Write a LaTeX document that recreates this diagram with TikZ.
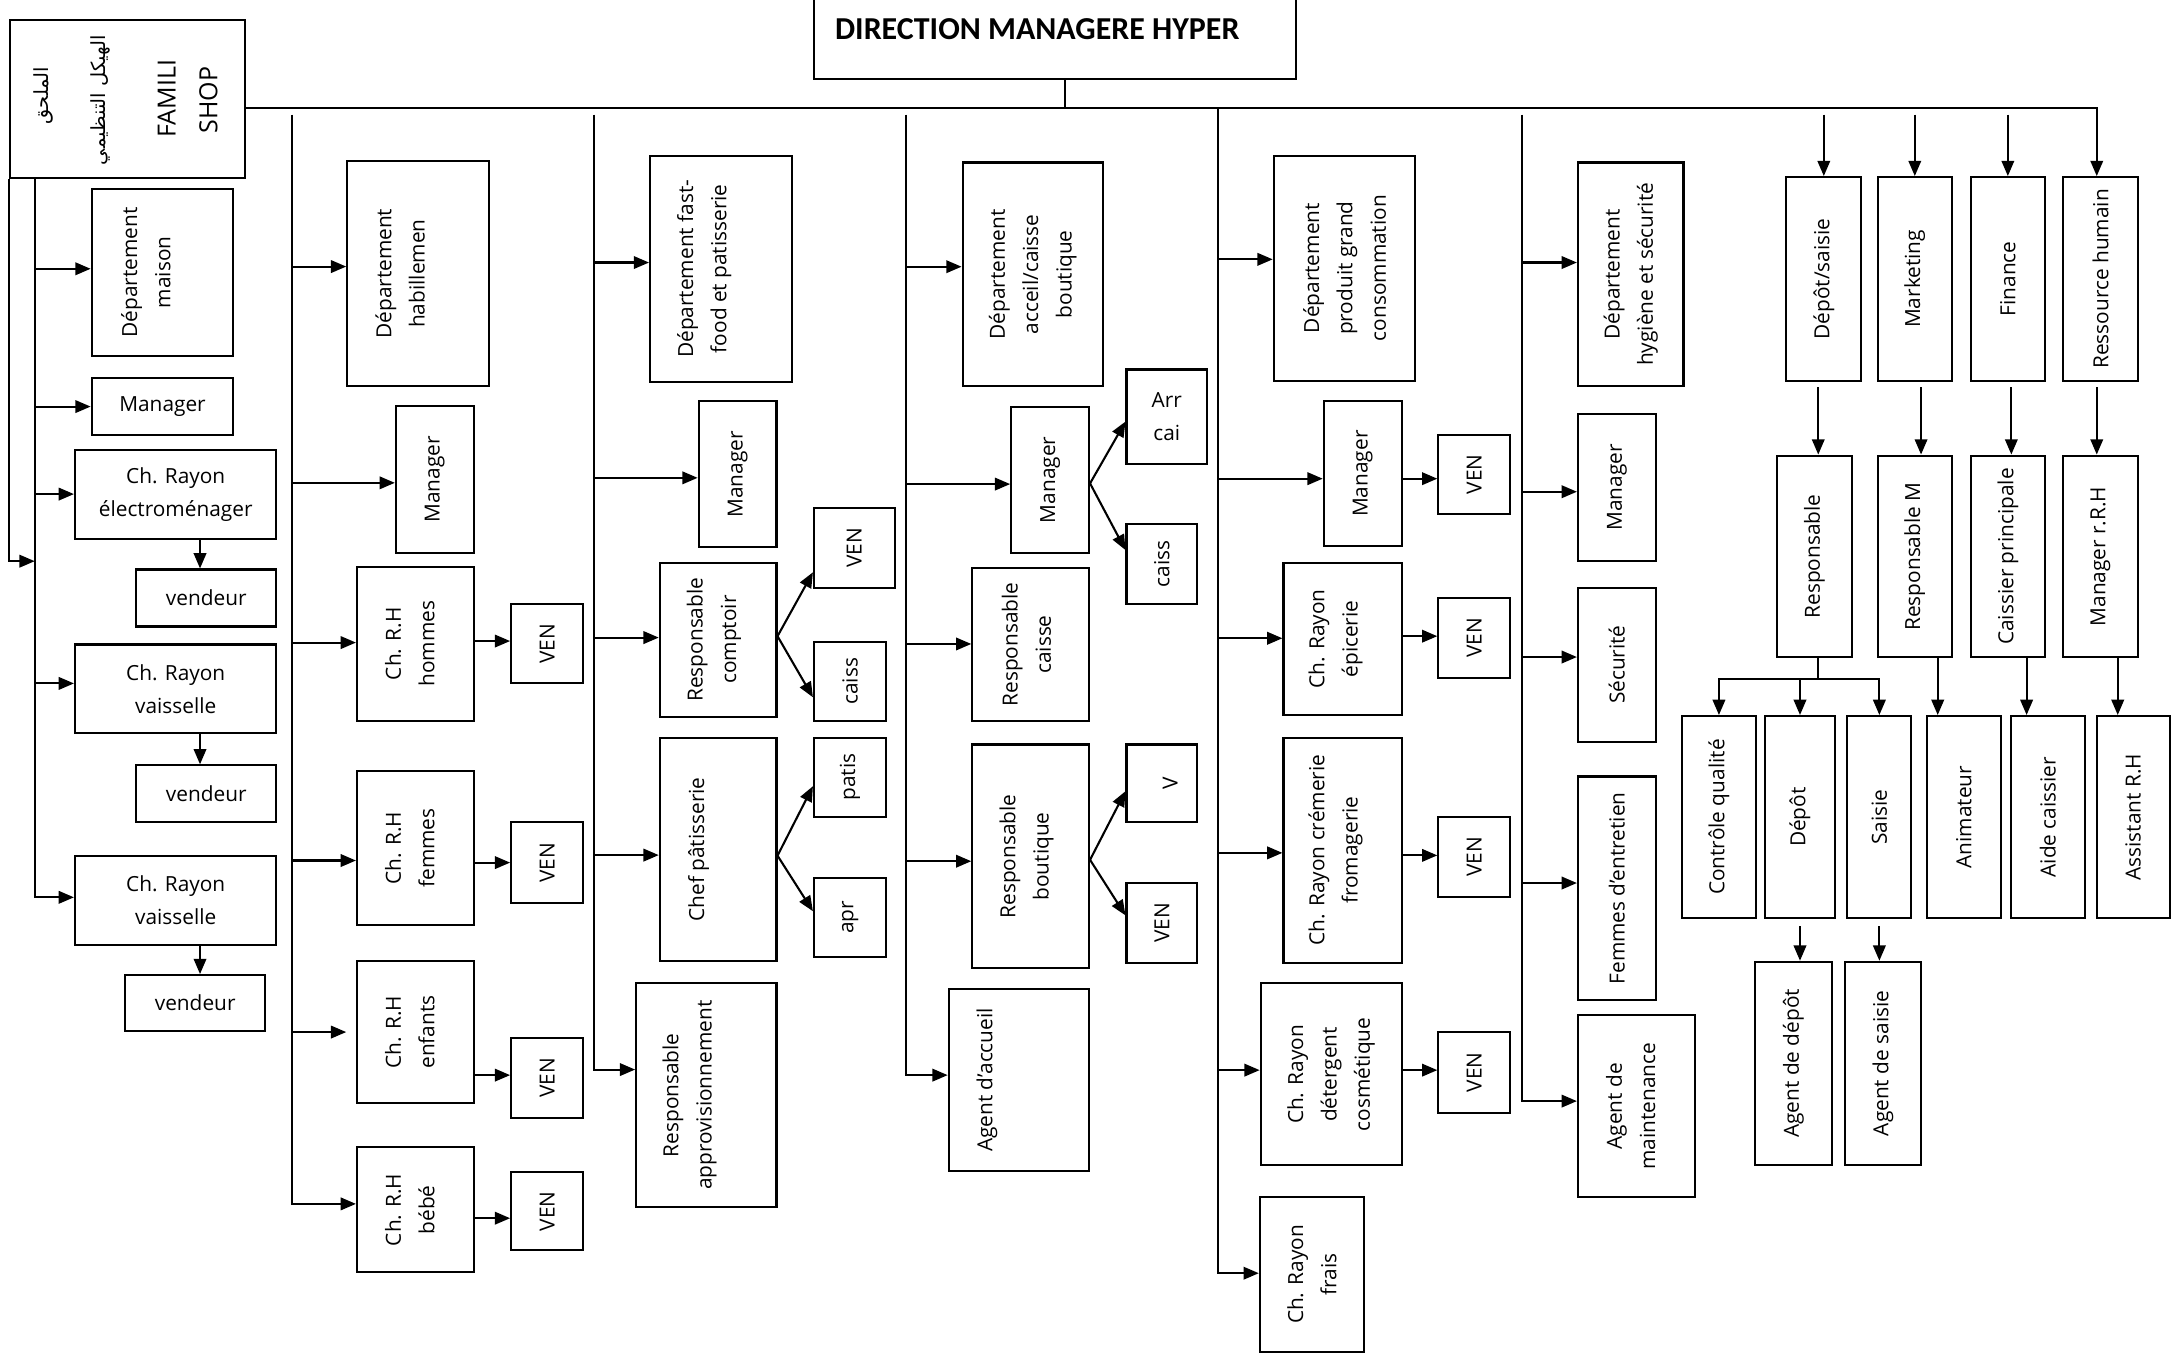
\documentclass[tikz,border=0pt]{standalone}
\usepackage{fontspec}
\setmainfont{Open Sans}
\newfontfamily\titlefont{Carlito}
\newfontfamily\arabicfont[Script=Arabic]{DejaVu Sans}
\TeXXeTstate=1
\usetikzlibrary{arrows.meta}

\tikzset{
  box/.style={draw, line width=1.5pt, inner sep=0pt},
  vtext/.style={rotate=90, align=center, inner sep=0pt, font=\fontsize{15}{24}\selectfont},
  htext/.style={align=center, inner sep=0pt, font=\fontsize{15}{24}\selectfont},
  atext/.style={rotate=90, inner sep=0pt, font=\arabicfont\fontsize{14}{20}\selectfont},
  link/.style={line width=1.5pt},
  arr/.style={link, -{Triangle[length=11pt,width=9pt]}},
}

% #1 text style, #2 name, #3..#6 corners (x1,y1,x2,y2), #7 text shift, #8 text
\newcommand\orgbox[8][vtext]{%
  \node[box, minimum width={(#5)-(#3)}, minimum height={(#6)-(#4)}]
    (#2) at ({((#3)+(#5))/2},{((#4)+(#6))/2}) {};
  \node[#1] (#2-t) at ([xshift=#7pt]#2.center) {#8};}
% arrow from a vertical trunk to the west side of a box, at height #3
\newcommand\feed[3]{\draw[arr] (#1 |- 0,#3) -- (#2.west |- 0,#3);}
% arrow from the east side of one box to the west side of another
\newcommand\side[4]{\draw[arr] (#1.east |- 0,#3) -- (#2.west |- 0,#4);}

\begin{document}
\begin{tikzpicture}[x=1pt,y=-1pt]
\fill[white] (0,0) rectangle (1568,978);
\useasboundingbox (0,0) rectangle (1568,978);

% ---- head of the chart
\node[box, minimum width=347, minimum height=62] (dir) at (759.5,26) {};
\node[anchor=west, inner sep=0pt, font=\titlefont\bfseries\fontsize{23}{28}\selectfont]
  (dir-t) at (601,21) {DIRECTION MANAGERE HYPER};

\node[box, minimum width=169.2, minimum height=113.6] (fam) at (91.8,71.2) {};
\node[atext] (fam-a1) at (31,69) {\beginR الملحق\endR};
\node[atext] (fam-a2) at (72,72) {\beginR الهيكل التنظيمي\endR};
\node[vtext, font=\fontsize{18}{24}\selectfont] (fam-l1) at (120,71) {FAMILI};
\node[vtext, font=\fontsize{18}{24}\selectfont] (fam-l2) at (150,72) {SHOP};

% trunks
\coordinate (B0) at (766.8,78);
\coordinate (T1) at (25,0);
\coordinate (T2) at (210,0);
\coordinate (T3) at (427.5,0);
\coordinate (T4) at (652.3,0);
\coordinate (T5) at (877,0);
\coordinate (T6) at (1095.5,0);
\coordinate (J1) at (25,404);

% ---- column 1 : maison
\orgbox{m1}{66}{136}{168}{256}{-12}{Département\\maison}
\orgbox[htext]{m2}{66}{272}{168}{313}{0}{Manager}
\orgbox[htext]{m3}{54}{324}{199}{388}{0}{Ch. Rayon\\électroménager}
\orgbox[htext]{m3v}{98}{410}{199}{451}{0}{vendeur}
\orgbox[htext]{m4}{54}{464}{199}{528}{0}{Ch. Rayon\\vaisselle}
\orgbox[htext]{m4v}{98}{551}{199}{592}{0}{vendeur}
\orgbox[htext]{m5}{54}{616}{199}{680}{0}{Ch. Rayon\\vaisselle}
\orgbox[htext]{m5v}{90}{702}{191}{742}{0}{vendeur}

% ---- column 2 : habillement
\orgbox{h1}{250}{116}{352}{278}{-13}{Département\\habillemen}
\orgbox{h2}{285}{292}{341}{398}{0}{Manager}
\orgbox{h3}{257}{408}{341}{519}{-4}{Ch. R.H\\hommes}
\orgbox{h3v}{368}{435}{420}{492}{0}{VEN}
\orgbox{h4}{257}{555}{341}{666}{-4}{Ch. R.H\\femmes}
\orgbox{h4v}{368}{592}{420}{650}{0}{VEN}
\orgbox{h5}{257}{692}{341}{794}{-4}{Ch. R.H\\enfants}
\orgbox{h5v}{368}{747}{420}{805}{0}{VEN}
\orgbox{h6}{257}{826}{341}{916}{-4}{Ch. R.H\\bébé}
\orgbox{h6v}{368}{844}{420}{900}{0}{VEN}

% ---- column 3 : fast-food
\orgbox{f1}{468}{112}{570}{275}{-12}{Département fast-\\food et patisserie}
\orgbox{f2}{503}{289}{559}{394}{0}{Manager}
\orgbox{f3}{475}{405}{559}{516}{-3}{Responsable\\comptoir}
\orgbox{f3a}{586}{366}{644}{423}{0}{VEN}
\orgbox{f3b}{586}{462}{638}{519}{0}{caiss}
\orgbox{f4}{475}{531}{559}{692}{-14}{Chef pâtisserie}
\orgbox{f4a}{586}{531}{638}{588}{0}{patis}
\orgbox{f4b}{586}{632}{638}{689}{0}{apr}
\orgbox{f5}{458}{708}{559}{869}{-12}{Responsable\\approvisionnement}

% ---- column 4 : accueil / caisse
\orgbox{a1}{693}{117}{794}{278}{0}{Département\\acceil/caisse\\boutique}
\orgbox{a2}{728}{293}{784}{398}{0}{Manager}
\orgbox[htext]{a2a}{811}{266}{869}{334}{0}{Arr\\cai}
\orgbox{a2b}{811}{377}{862}{435}{0}{caiss}
\orgbox{a3}{700}{409}{784}{519}{-3}{Responsable\\caisse}
\orgbox{a4}{700}{536}{784}{697}{-3}{Responsable\\boutique}
\orgbox{a4a}{811}{536}{862}{592}{6}{V}
\orgbox{a4b}{811}{636}{862}{693}{0}{VEN}
\orgbox{a5}{683}{712}{784}{843}{-23}{Agent d’accueil}

% ---- column 5 : grande consommation
\orgbox{p1}{917}{112}{1019}{274}{0}{Département\\produit grand\\consommation}
\orgbox{p2}{953}{289}{1009}{393}{0}{Manager}
\orgbox{p2v}{1035.5}{313}{1087}{370}{0}{VEN}
\orgbox{p3}{924}{405}{1009}{515}{-5}{Ch. Rayon\\épicerie}
\orgbox{p3v}{1035.5}{430.5}{1087}{488}{0}{VEN}
\orgbox{p4}{924}{531}{1009}{693}{-5}{Ch. Rayon crémerie\\fromagerie}
\orgbox{p4v}{1035.5}{588}{1087}{646}{0}{VEN}
\orgbox{p5}{907.6}{708}{1009}{839}{0}{Ch. Rayon\\détergent\\cosmétique}
\orgbox{p5v}{1035.5}{743}{1087}{801}{0}{VEN}
\orgbox{p6}{907}{862}{982}{973}{0}{Ch. Rayon\\frais}

% ---- column 6 : hygiène et sécurité
\orgbox{s1}{1136}{117}{1212}{278}{0}{Département\\hygiène et sécurité}
\orgbox{s2}{1136}{298}{1192}{404}{0}{Manager}
\orgbox{s3}{1136}{423}{1192}{534}{0}{Sécurité}
\orgbox{s4}{1136}{559}{1192}{720}{0}{Femmes d’entretien}
\orgbox{s5}{1136}{731}{1220}{862}{-4}{Agent de\\maintenance}

% ---- services
\orgbox{r1}{1286}{127.5}{1340}{274}{0}{Dépôt/saisie}
\orgbox{r2}{1352}{127.5}{1405}{274}{0}{Marketing}
\orgbox{r3}{1419}{127.5}{1472}{274}{0}{Finance}
\orgbox{r4}{1485.4}{127.5}{1539}{274}{0}{Ressource humain}
\orgbox{q1}{1279.4}{328}{1333}{473.3}{0}{Responsable}
\orgbox{q2}{1352}{328}{1405}{473.3}{0}{Responsable M}
\orgbox{q3}{1419}{328}{1472}{473.3}{0}{Caissier principale}
\orgbox{q4}{1485.4}{328}{1539}{473.3}{0}{Manager r.R.H}
\orgbox{w1}{1211}{515.5}{1264}{661}{0}{Contrôle qualité}
\orgbox{w2}{1270.7}{515.5}{1321}{661}{0}{Dépôt}
\orgbox{w3}{1330}{515.5}{1376}{661}{0}{Saisie}
\orgbox{w4}{1387}{515.5}{1440.6}{661}{0}{Animateur}
\orgbox{w5}{1447.6}{515.5}{1501}{661}{0}{Aide caissier}
\orgbox{w6}{1509.5}{515.5}{1562}{661}{0}{Assistant R.H}
\orgbox{z1}{1263.5}{692.4}{1318.7}{838.7}{0}{Agent de dépôt}
\orgbox{z2}{1328}{692.4}{1383}{838.7}{0}{Agent de saisie}

% ---- connectors
\draw[link] (dir.south -| B0) -- (B0);
\draw[arr] (fam.east |- 0,78) -| (r4.north -| 1509.5,0);

% column 1
\draw[arr] (T1 |- fam.south) |- (m5.west |- 0,646);
\draw[arr] (fam.south west) |- (J1);
\feed{T1}{m1}{193.5}
\feed{T1}{m2}{292.7}
\feed{T1}{m3}{355.7}
\feed{T1}{m4}{492}
\draw[arr] (m3.south -| 144,0) -- (m3v.north -| 144,0);
\draw[arr] (m4.south -| 144,0) -- (m4v.north -| 144,0);
\draw[arr] (m5.south -| 144,0) -- (m5v.north -| 144,0);

% column 2
\draw[arr] (T2 |- 0,82.6) |- (h6.west |- 0,866.7);
\feed{T2}{h1}{191.9}
\feed{T2}{h2}{347.6}
\feed{T2}{h3}{462.6}
\feed{T2}{h4}{619.5}
\draw[arr, shorten >=7pt] (T2 |- 0,743) -- (h5.west |- 0,743);
\side{h3}{h3v}{461.5}{461.5}
\side{h4}{h4v}{621}{621}
\side{h5}{h5v}{774}{774}
\side{h6}{h6v}{877}{877}

% column 3
\draw[arr] (T3 |- 0,82.6) |- (f5.west |- 0,770);
\feed{T3}{f1}{189}
\feed{T3}{f2}{344}
\feed{T3}{f3}{459}
\feed{T3}{f4}{615.6}
\side{f3}{f3a}{458}{412}
\side{f3}{f3b}{458}{502}
\side{f4}{f4a}{616}{566}
\side{f4}{f4b}{616}{656}

% column 4
\draw[arr] (T4 |- 0,82.6) |- (a5.west |- 0,774);
\feed{T4}{a1}{192}
\feed{T4}{a2}{348.5}
\feed{T4}{a3}{463.6}
\feed{T4}{a4}{620}
\side{a2}{a2a}{348}{303.5}
\side{a2}{a2b}{348}{396}
\side{a4}{a4a}{619}{569.6}
\side{a4}{a4b}{619}{659}

% column 5
\draw[arr] (T5 |- 0,78) |- (p6.west |- 0,916.6);
\feed{T5}{p1}{186.7}
\feed{T5}{p2}{344.6}
\feed{T5}{p3}{459.5}
\feed{T5}{p4}{614}
\feed{T5}{p5}{770.4}
\side{p2}{p2v}{344.6}{344.6}
\side{p3}{p3v}{458}{458}
\side{p4}{p4v}{615.8}{615.8}
\side{p5}{p5v}{770.4}{770.4}

% column 6
\draw[arr] (T6 |- 0,82.6) |- (s5.west |- 0,792.7);
\feed{T6}{s1}{189}
\feed{T6}{s2}{354}
\feed{T6}{s3}{473}
\feed{T6}{s4}{635.7}

% services
\draw[arr] (r1.north |- 0,82.6) -- (r1.north);
\draw[arr] (r2.north |- 0,82.6) -- (r2.north);
\draw[arr] (r3.north |- 0,82.6) -- (r3.north);
\draw[arr, shorten <=4pt] (r1.south -| 1309,0) -- (q1.north -| 1309,0);
\draw[arr, shorten <=4pt] (r2.south -| 1383,0) -- (q2.north -| 1383,0);
\draw[arr, shorten <=4pt] (r3.south -| 1448,0) -- (q3.north -| 1448,0);
\draw[arr, shorten <=4pt] (r4.south -| 1509.5,0) -- (q4.north -| 1509.5,0);
\coordinate (K0) at (1309,489);
\draw[link] (q1.south -| K0) -- (K0);
\draw[arr] (K0) -| (w1.north);
\draw[arr] (K0) -| (w3.north);
\draw[arr] (w2.north |- K0) -- (w2.north);
\draw[arr] (q2.south -| 1395,0) -- (w4.north -| 1395,0);
\draw[arr] (q3.south -| 1459,0) -- (w5.north -| 1459,0);
\draw[arr] (q4.south -| 1524.6,0) -- (w6.north -| 1524.6,0);
\draw[arr, shorten <=5pt] (w2.south) -- (w2.south |- z1.north);
\draw[arr, shorten <=5pt] (w3.south) -- (w3.south |- z2.north);
\end{tikzpicture}
\end{document}
